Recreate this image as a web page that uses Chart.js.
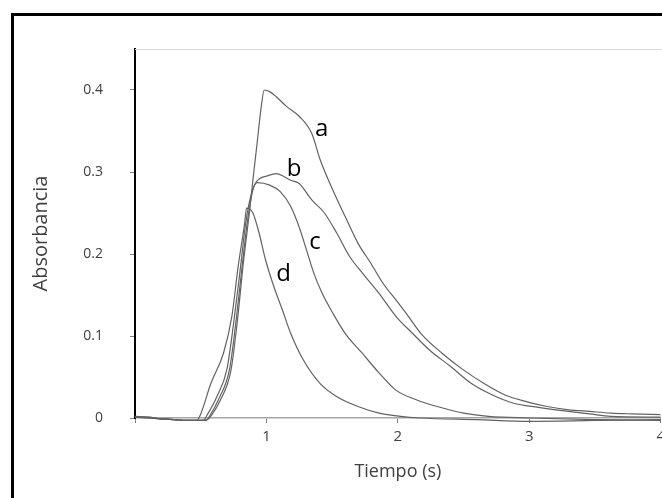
<!DOCTYPE html>
<html>
<head>
<meta charset="utf-8">
<script src="https://cdn.jsdelivr.net/npm/chart.js@4.4.1/dist/chart.umd.min.js"></script>
<style>
  html, body { margin: 0; padding: 0; background: #fff; overflow: hidden; }
  #wrap { position: relative; width: 662px; height: 498px; overflow: hidden; }
  #chart { position: absolute; left: 0; top: 0; }
  #frame { position: absolute; left: 11px; top: 13px; width: 700px; height: 600px; border: 3px solid #000; box-sizing: border-box; }
</style>
</head>
<body>
<div id="wrap">
  <canvas id="chart" width="670" height="498"></canvas>
  <div id="frame"></div>
</div>
<script>
// Absorbancia vs tiempo, curvas a-d
const xTickValues = [0, 1, 2, 3, 4];
const yTickValues = [0, 0.1, 0.2, 0.3, 0.4];

const curveNames = ['a', 'b', 'c', 'd'];

const timeA = [0, 0.1, 0.2, 0.3, 0.4, 0.5, 0.55, 0.58, 0.65, 0.73, 0.78, 0.825, 0.87, 0.897, 0.929, 0.961, 0.983,
  1.025, 1.073, 1.153, 1.249, 1.345, 1.409, 1.505, 1.601, 1.697, 1.793, 1.888, 1.985, 2.08, 2.176, 2.336,
  2.496, 2.656, 2.816, 2.976, 3.136, 3.3, 3.46, 3.62, 3.78, 4.0];
const absA = [0.002, 0.001, -0.001, -0.002, -0.003, -0.003, -0.002, 0.003, 0.022, 0.058, 0.12, 0.19, 0.25, 0.29, 0.335, 0.38, 0.40,
  0.398, 0.392, 0.38, 0.368, 0.347, 0.315, 0.278, 0.245, 0.213, 0.189, 0.164, 0.144, 0.124, 0.103, 0.079,
  0.059, 0.042, 0.028, 0.02, 0.014, 0.01, 0.008, 0.006, 0.005, 0.004];

const timeB = [0, 0.1, 0.2, 0.3, 0.4, 0.5, 0.54, 0.57, 0.64, 0.72, 0.77, 0.815, 0.86, 0.9, 0.95, 1.0, 1.073,
  1.185, 1.249, 1.345, 1.441, 1.537, 1.633, 1.729, 1.857, 1.985, 2.113, 2.24, 2.4, 2.56, 2.72, 2.88,
  3.07, 3.3, 3.46, 3.62, 4.0];
const absB = [0.001, 0.001, -0.001, -0.002, -0.003, -0.003, -0.003, 0.003, 0.024, 0.06, 0.12, 0.185, 0.245, 0.28, 0.292, 0.295, 0.298,
  0.29, 0.286, 0.266, 0.25, 0.225, 0.197, 0.177, 0.152, 0.124, 0.103, 0.083, 0.063, 0.042, 0.028, 0.018,
  0.013, 0.008, 0.005, 0.002, 0.001];

const timeC = [0, 0.1, 0.2, 0.3, 0.4, 0.5, 0.52, 0.55, 0.62, 0.7, 0.75, 0.8, 0.84, 0.88, 0.929,
  1.025, 1.105, 1.185, 1.249, 1.297, 1.36, 1.424, 1.505, 1.6, 1.729, 1.857, 1.985, 2.145, 2.3, 2.5,
  2.69, 3.0, 3.5, 4.0];
const absC = [0.001, 0.0, -0.001, -0.002, -0.003, -0.003, -0.003, 0.004, 0.025, 0.06, 0.115, 0.18, 0.235, 0.27, 0.287,
  0.284, 0.276, 0.258, 0.233, 0.209, 0.177, 0.152, 0.128, 0.103, 0.079, 0.055, 0.034, 0.022, 0.014, 0.006,
  0.002, 0.0, -0.002, -0.003];

const timeD = [0, 0.1, 0.2, 0.3, 0.4, 0.47, 0.5, 0.577, 0.673, 0.737, 0.785, 0.833, 0.849,
  0.897, 0.945, 0.993, 1.057, 1.121, 1.185, 1.28, 1.409, 1.537, 1.697, 1.857, 2.02, 2.17, 2.6, 3.0, 3.5, 4.0];
const absD = [0.002, 0.0, -0.001, -0.002, -0.003, -0.003, 0.005, 0.042, 0.079, 0.124, 0.185, 0.236, 0.256,
  0.25, 0.225, 0.193, 0.16, 0.132, 0.103, 0.071, 0.042, 0.026, 0.014, 0.006, 0.002, 0.0, -0.002, -0.004, -0.003, -0.002];

// where the letters sit, in data units
const labelX = [1.42, 1.21, 1.37, 1.13];
const labelY = [0.352, 0.303, 0.214, 0.176];

const times = [timeA, timeB, timeC, timeD];
const values = [absA, absB, absC, absD];

const FONT = '"Open Sans", sans-serif';

const datasets = curveNames.map((name, i) => ({
  label: name,
  data: times[i].map((t, k) => ({ x: t, y: values[i][k] })),
  borderColor: '#626262',
  borderWidth: 1.2,
  pointRadius: 0,
  fill: false,
  clip: { left: 0, top: 0, right: 0, bottom: 6 },
  cubicInterpolationMode: 'monotone'
}));

const curveLabels = {
  id: 'curveLabels',
  afterDatasetsDraw(chart) {
    const ctx = chart.ctx;
    const xs = chart.scales.x, ys = chart.scales.y;
    ctx.save();
    ctx.font = '24px ' + FONT;
    ctx.fillStyle = '#000';
    ctx.textAlign = 'center';
    ctx.textBaseline = 'middle';
    curveNames.forEach((name, i) => {
      ctx.fillText(name, xs.getPixelForValue(labelX[i]), ys.getPixelForValue(labelY[i]));
    });
    ctx.restore();
  }
};

const topLine = {
  id: 'topLine',
  beforeDatasetsDraw(chart) {
    const { ctx, chartArea } = chart;
    ctx.save();
    ctx.strokeStyle = '#d9d9d9';
    ctx.lineWidth = 1;
    ctx.beginPath();
    ctx.moveTo(chartArea.left, chartArea.top + 0.5);
    ctx.lineTo(chartArea.right + 20, chartArea.top + 0.5);
    ctx.stroke();
    ctx.restore();
  }
};

new Chart(document.getElementById('chart'), {
  type: 'line',
  data: { datasets: datasets },
  plugins: [topLine, curveLabels],
  options: {
    responsive: false,
    animation: false,
    layout: { padding: { left: 0, top: 49, right: 7, bottom: 0 } },
    plugins: { legend: { display: false }, tooltip: { enabled: false } },
    scales: {
      x: {
        type: 'linear',
        min: 0,
        max: 4,
        afterFit: (s) => { s.height = 80; },
        afterBuildTicks: (s) => { s.ticks = xTickValues.map(v => ({ value: v })); },
        border: { color: '#a6a6a6', width: 1.5 },
        grid: { drawOnChartArea: false, drawTicks: true, tickLength: 5, color: '#808080' },
        ticks: {
          color: '#404040',
          padding: 5,
          maxRotation: 0,
          font: { family: FONT, size: 15 },
          callback: (v) => v === 0 ? '' : String(v)
        },
        title: {
          display: true,
          text: 'Tiempo (s)',
          color: '#404040',
          font: { family: FONT, size: 18 },
          padding: { top: 0, bottom: 15 }
        }
      },
      y: {
        type: 'linear',
        min: 0,
        max: 0.45,
        afterFit: (s) => { s.width = 135; },
        afterBuildTicks: (s) => { s.ticks = yTickValues.map(v => ({ value: v })); },
        border: { color: '#000', width: 2 },
        grid: { drawOnChartArea: false, drawTicks: true, tickLength: 5, color: '#808080' },
        ticks: {
          color: '#404040',
          padding: 27,
          font: { family: FONT, size: 14 },
          callback: (v) => v === 0 ? '0' : v.toFixed(1)
        },
        title: {
          display: true,
          text: 'Absorbancia',
          color: '#404040',
          font: { family: FONT, size: 20 },
          padding: { top: 29, bottom: 0 }
        }
      }
    }
  }
});
</script>
</body>
</html>
